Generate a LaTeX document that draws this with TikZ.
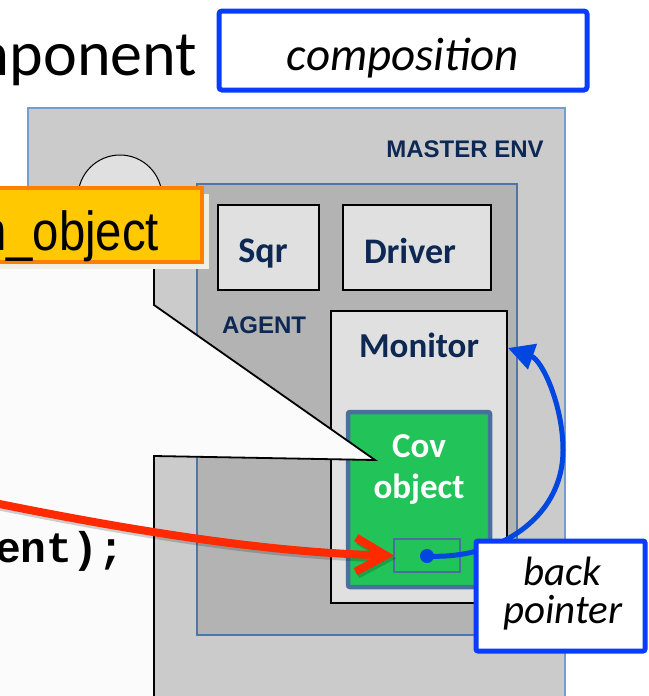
\documentclass[tikz,border=0pt]{standalone}
\usepackage{fontspec}
\setmainfont{Carlito}
\newfontfamily\arialf{Liberation Sans}
\newfontfamily\courf{Liberation Mono}
\usetikzlibrary{arrows.meta,calc}
\definecolor{navy}{HTML}{0C2853}
\definecolor{envgray}{HTML}{CBCBCB}
\definecolor{envline}{HTML}{729FCF}
\definecolor{agentgray}{HTML}{B3B3B3}
\definecolor{agentline}{HTML}{4F76A6}
\definecolor{compgray}{HTML}{E0E0E0}
\definecolor{covgreen}{HTML}{22C45A}
\definecolor{covline}{HTML}{4A6F9C}
\definecolor{calloutfill}{HTML}{FBFBFB}
\definecolor{objyellow}{HTML}{FFC800}
\definecolor{objorange}{HTML}{FF8000}
\definecolor{objshadow}{HTML}{F1EFE4}
\definecolor{frameblue}{HTML}{0A3CFF}
\definecolor{ptrblue}{HTML}{0046E0}
\definecolor{arrowred}{HTML}{FF2A00}
\begin{document}
\begin{tikzpicture}[x=1pt,y=-1pt,
  every node/.style={inner sep=0pt, outer sep=0pt},
  compbox/.style={draw=black, line width=1.3pt, fill=compgray, rectangle},
  frame/.style={draw=frameblue, line width=5pt, fill=white, rounded corners=3pt, rectangle},
  navylabel/.style={text=navy, anchor=base, font=\bfseries\fontsize{36}{36}\selectfont},
  envlabel/.style={text=navy, anchor=base, font=\arialf\bfseries\fontsize{24}{24}\selectfont},
  covlabel/.style={text=white, anchor=base, font=\bfseries\fontsize{35}{35}\selectfont},
  notelabel/.style={anchor=base, font=\itshape\fontsize{41}{41}\selectfont}]
\useasboundingbox (0,0) rectangle (648,696);
\clip (0,0) rectangle (648,696);

% environment and agent containers
\node[draw=envline, line width=2pt, fill=envgray, minimum width=537pt, minimum height=612pt] (master) at (296.5,414) {};
\node[envlabel] (masterlabel) at (465,157) {MASTER ENV};
\node[draw=black, line width=1pt, fill=compgray, circle, minimum size=84pt] (port) at (120,197) {};
\node[draw=agentline, line width=2pt, fill=agentgray, minimum width=320pt, minimum height=451pt] (agent) at (357,409.5) {};
\node[envlabel] (agentlabel) at (264,333) {AGENT};

% agent components
\node[compbox, minimum width=101pt, minimum height=85pt] (sqr) at (268.5,247.5) {};
\node[navylabel] (sqrlabel) at (263,262) {Sqr};
\node[compbox, minimum width=148pt, minimum height=85pt] (driver) at (417,247.5) {};
\node[navylabel] (driverlabel) at (410,263) {Driver};
\node[compbox, minimum width=176pt, minimum height=292pt] (monitor) at (419,457) {};
\node[navylabel, font=\bfseries\fontsize{35}{35}\selectfont] (monitorlabel) at (419,357) {Monitor};

% coverage object with its pointer field
\node[draw=covline, line width=4.5pt, fill=covgreen, rounded corners=2pt, minimum width=142pt, minimum height=175pt] (cov) at (419,499.5) {};
\node[covlabel] (covA) at (419,457) {Cov};
\node[covlabel] (covB) at (419,498) {object};
\node[draw=covline, line width=2pt, minimum width=66pt, minimum height=33pt] (ptr) at (427,555.5) {};
\node[fill=ptrblue, circle, minimum size=14pt] (dot) at (427,556) {};

% code callout
\filldraw[fill=calloutfill, draw=black, line width=1.8pt, line join=miter]
  (-10,240) -- (154,240) -- (154,305) -- (375,460) -- (154,456) -- (154,710) -- (-10,710) -- cycle;
\node[anchor=base west, font=\courf\bfseries\fontsize{43}{43}\selectfont] (code) at (-5,562) {ent);};

% class name tag
\fill[objshadow] (-20,194) rectangle (209,269);
\node[draw=objorange, line width=4pt, fill=objyellow, minimum width=222pt, minimum height=74pt] (objtag) at (91,225) {};
\node[anchor=base east, font=\arialf\fontsize{55}{55}\selectfont] (objlabel) at (159,250) {\scalebox{0.86}[1]{m\_object}};

% heading
\node[anchor=base east, font=\fontsize{64}{64}\selectfont] (title) at (197,75) {mponent};
\node[frame, minimum width=368pt, minimum height=79pt] (compframe) at (403,50.5) {};
\node[anchor=base, font=\itshape\fontsize{47}{47}\selectfont] (complabel) at (403,70) {composition};

% reference into the coverage object
\coordinate (redstart) at (-20,500);
\draw[black, opacity=0.18, line width=8pt, -{Straight Barb[length=30pt,width=34pt]}]
  ([shift={(2,3)}]redstart) .. controls (152,538) and (282,556) .. ([shift={(2,3)}]ptr.west);
\draw[arrowred, line width=8pt, -{Straight Barb[length=30pt,width=34pt]}]
  (redstart) .. controls (150,535) and (280,553) .. (ptr.west);

% back pointer to the monitor
\draw[ptrblue, line width=5pt, -{Triangle[length=26pt,width=26pt]}]
  (dot.center) .. controls (495,560) and (563,520) .. (563,450)
  .. controls (563,405) and (542,360) .. ($(monitor.north east)+(1,37)$);
\node[frame, rounded corners=2pt, minimum width=169pt, minimum height=110pt] (backframe) at (560.5,596) {};
\node[notelabel] (backA) at (562,585) {back};
\node[notelabel] (backB) at (563,623) {pointer};
\end{tikzpicture}
\end{document}
